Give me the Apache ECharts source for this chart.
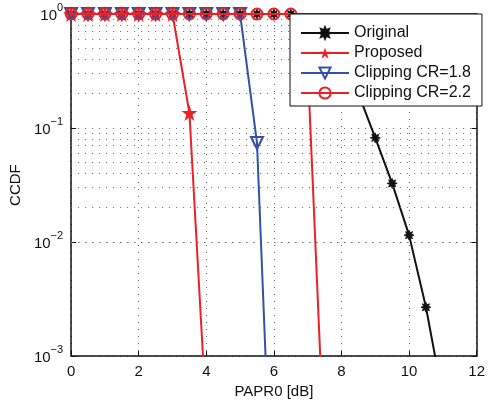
<!DOCTYPE html>
<html>
<head>
<meta charset="utf-8">
<script src="https://cdn.jsdelivr.net/npm/echarts@6/dist/echarts.min.js"></script>
<style>
html,body{margin:0;padding:0;background:#fff;}
#chart{width:488px;height:404px;}
</style>
</head>
<body>
<div id="chart"></div>
<script>
// ---- data ----
const papr = [0,0.5,1,1.5,2,2.5,3,3.5,4,4.5,5,5.5,6,6.5,7,7.5,8,8.5,9,9.5,10,10.5,11];
const ccdfOriginal = [1,1,1,1,1,1,1,1,1,1,1,1,1,1,0.89,0.66,0.40,0.20,0.082,0.0327,0.0115,0.00268,0.00043];
const ccdfProposed = [1,1,1,1,1,1,1,0.1355,0.0003];
const ccdfClip18 = [1,1,1,1,1,1,1,1,1,1,1,0.074,0.000015];
const ccdfClip22 = [1,1,1,1,1,1,1,1,1,1,1,1,1,1,0.355,0.00013];
const seriesNames = ['Original','Proposed','Clipping CR=1.8','Clipping CR=2.2'];
const xTicks = [0,2,4,6,8,10,12];
const yDecades = [0.001,0.01,0.1,1];
const yMinorGrid = [0.002,0.003,0.004,0.005,0.006,0.007,0.008,0.009,
                    0.02,0.03,0.04,0.05,0.06,0.07,0.08,0.09,
                    0.2,0.3,0.4,0.5,0.6,0.7,0.8,0.9];

const pairs = ys => ys.map((y,i)=>[papr[i], y]);

const FONT = '"Liberation Sans", Arial, Helvetica, sans-serif';
const RED = '#ec2027';
const BLUE = '#3451a5';
const BLACK = '#111111';
const dotted = {type:[1,6], color:'#666', width:1};

const starPath = 'path://M50,0 L61.2,34.5 L97.6,34.5 L68.2,55.9 L79.4,90.5 L50,69.1 L20.6,90.5 L31.8,55.9 L2.4,34.5 L38.8,34.5 Z';
const asteriskPath = 'path://M100,50 L75,60 L85.4,85.4 L60,75 L50,100 L40,75 L14.6,85.4 L25,60 L0,50 L25,40 L14.6,14.6 L40,25 L50,0 L60,25 L85.4,14.6 L75,40 Z';

const chart = echarts.init(document.getElementById('chart'), null, {renderer:'canvas'});

const expLabel = v => {
  const e = Math.round(Math.log10(v));
  return '{b|10}{e|' + (e < 0 ? '\u2212' + (-e) : e) + '}';
};

const option = {
  animation: false,
  backgroundColor: '#fff',
  textStyle: {fontFamily: FONT},
  grid: {left: 70, right: 6, top: 14, bottom: 47, containLabel: false},
  legend: {
    data: seriesNames,
    orient: 'vertical',
    left: 290,
    top: 14,
    itemWidth: 48,
    itemHeight: 14,
    itemGap: 4,
    padding: [11, 11, 5, 10],
    backgroundColor: '#fff',
    borderColor: '#111',
    borderWidth: 1,
    borderRadius: 0,
    textStyle: {fontFamily: FONT, fontSize: 16, color: '#111', lineHeight: 16},
    z: 10
  },
  xAxis: [{
    type: 'value', min: 0, max: 12, interval: 2,
    name: 'PAPR0 [dB]', nameLocation: 'middle', nameGap: 26,
    nameTextStyle: {fontFamily: FONT, fontSize: 15, color: '#111'},
    axisLine: {show: true, onZero: false, lineStyle: {color: BLACK, width: 1.5}},
    axisTick: {show: true, inside: true, length: 5, lineStyle: {color: BLACK}},
    axisLabel: {fontFamily: FONT, fontSize: 15, color: '#111', margin: 8,
      formatter: v => xTicks.indexOf(v) >= 0 ? String(v) : ''},
    splitLine: {show: true, lineStyle: dotted}
  },{
    type: 'value', min: 0, max: 12, interval: 2, position: 'top',
    axisLine: {show: true, onZero: false, lineStyle: {color: BLACK, width: 1.5}},
    axisTick: {show: true, inside: true, length: 5, lineStyle: {color: BLACK}},
    axisLabel: {show: false},
    splitLine: {show: false}
  }],
  yAxis: [{
    type: 'log', logBase: 10, min: yDecades[0], max: yDecades[yDecades.length-1],
    name: 'CCDF', nameLocation: 'middle', nameGap: 41, nameRotate: 90,
    nameTextStyle: {fontFamily: FONT, fontSize: 15, color: '#111'},
    axisLine: {show: true, onZero: false, lineStyle: {color: BLACK, width: 1.5}},
    axisTick: {show: true, inside: true, length: 5, lineStyle: {color: BLACK}},
    axisLabel: {
      margin: 8,
      formatter: expLabel,
      rich: {
        b: {fontFamily: FONT, fontSize: 15, color: '#111', padding: [4,0,0,0]},
        e: {fontFamily: FONT, fontSize: 11, color: '#111', padding: [0,0,13,0]}
      }
    },
    splitLine: {show: true, lineStyle: dotted}
  },{
    type: 'log', logBase: 10, min: yDecades[0], max: yDecades[yDecades.length-1], position: 'right',
    axisLine: {show: true, onZero: false, lineStyle: {color: BLACK, width: 1.5}},
    axisTick: {show: true, inside: true, length: 5, lineStyle: {color: BLACK}},
    axisLabel: {show: false},
    splitLine: {show: false}
  }],
  series: [
    {
      name: '_grid', type: 'line', data: [], silent: true, z: 1,
      markLine: {
        silent: true, symbol: ['none','none'], animation: false,
        label: {show: false},
        lineStyle: dotted,
        emphasis: {disabled: true},
        data: yMinorGrid.map(v => ({yAxis: v}))
      }
    },
    {
      name: seriesNames[0], type: 'line', data: pairs(ccdfOriginal), z: 3,
      symbol: asteriskPath, symbolSize: 10, showAllSymbol: true,
      lineStyle: {color: BLACK, width: 2},
      itemStyle: {color: BLACK, borderColor: BLACK, borderWidth: 0.8}
    },
    {
      name: seriesNames[1], type: 'line', data: pairs(ccdfProposed), z: 4,
      symbol: starPath, symbolSize: 16, showAllSymbol: true,
      lineStyle: {color: RED, width: 2},
      itemStyle: {color: RED}
    },
    {
      name: seriesNames[2], type: 'line', data: pairs(ccdfClip18), z: 5,
      symbol: 'triangle', symbolRotate: 180, symbolSize: 12, showAllSymbol: true,
      lineStyle: {color: BLUE, width: 2},
      itemStyle: {color: 'rgba(255,255,255,0)', borderColor: BLUE, borderWidth: 2}
    },
    {
      name: seriesNames[3], type: 'line', data: pairs(ccdfClip22), z: 6,
      symbol: 'circle', symbolSize: 11, showAllSymbol: true,
      lineStyle: {color: RED, width: 2},
      itemStyle: {color: 'rgba(255,255,255,0)', borderColor: RED, borderWidth: 2}
    }
  ]
};
chart.setOption(option);
</script>
</body>
</html>
